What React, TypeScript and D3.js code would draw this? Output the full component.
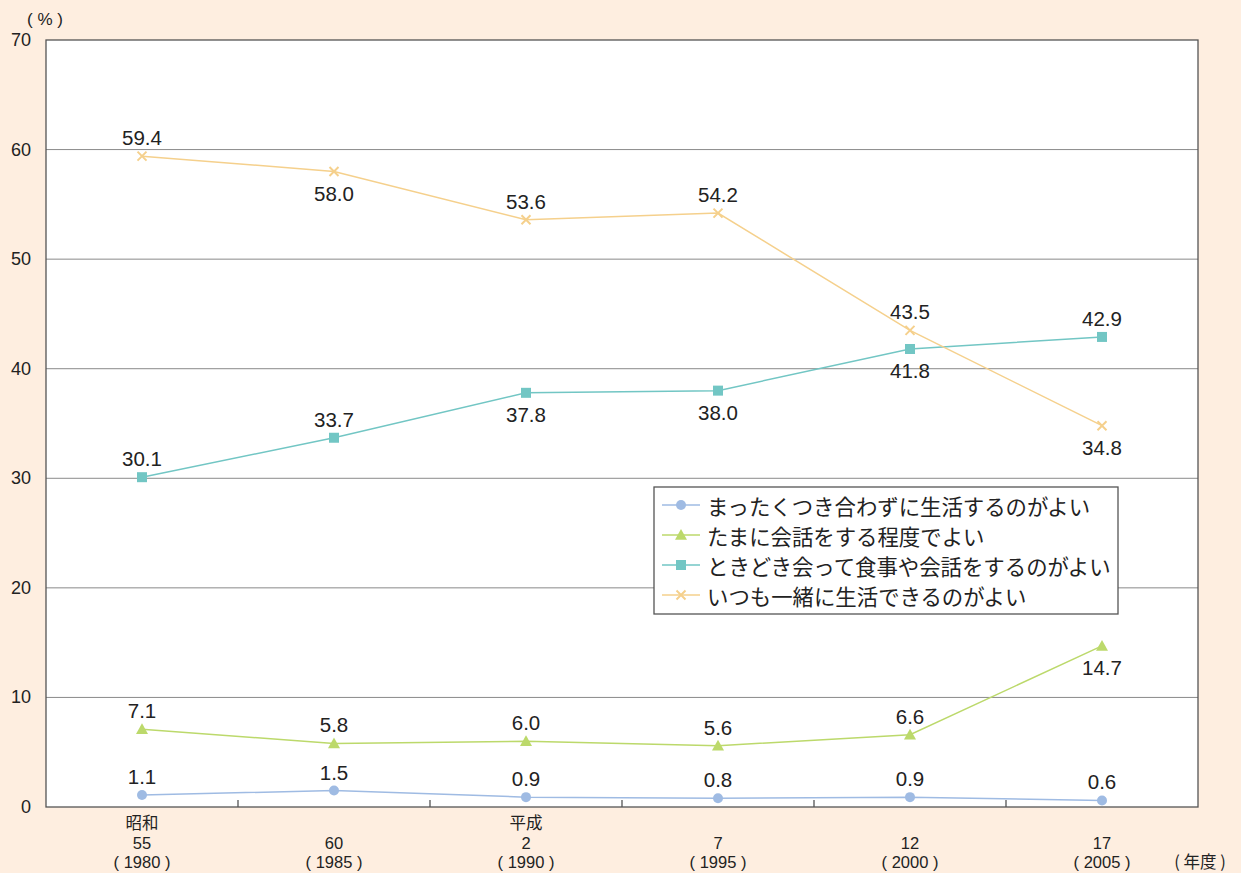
import React from "react";
import * as d3 from "d3";

const eraLabels = ["昭和", "", "平成", "", "", ""];
const eraYears = ["55", "60", "2", "7", "12", "17"];
const westernYears = ["1980", "1985", "1990", "1995", "2000", "2005"];

const seriesNames = [
  "まったくつき合わずに生活するのがよい",
  "たまに会話をする程度でよい",
  "ときどき会って食事や会話をするのがよい",
  "いつも一緒に生活できるのがよい",
];
const noContact = [1.1, 1.5, 0.9, 0.8, 0.9, 0.6];
const occasionalTalk = [7.1, 5.8, 6.0, 5.6, 6.6, 14.7];
const mealsAndTalk = [30.1, 33.7, 37.8, 38.0, 41.8, 42.9];
const liveTogether = [59.4, 58.0, 53.6, 54.2, 43.5, 34.8];

// label placement: 1 = above the point, -1 = below
const noContactPos = [1, 1, 1, 1, 1, 1];
const occasionalPos = [1, 1, 1, 1, 1, -1];
const mealsPos = [1, 1, -1, -1, -1, 1];
const livePos = [1, -1, 1, 1, 1, -1];

const yTicks = [0, 10, 20, 30, 40, 50, 60, 70];

const W = 1241;
const H = 873;
const plot = { left: 46, right: 1198, top: 40, bottom: 807 };
const FONT = "'Noto Sans CJK JP', 'Noto Sans', sans-serif";
const NUM_FONT = "Arial, 'Liberation Sans', sans-serif";

type Series = {
  name: string;
  values: number[];
  pos: number[];
  color: string;
  marker: "circle" | "triangle" | "square" | "cross";
};

const series: Series[] = [
  { name: seriesNames[0], values: noContact, pos: noContactPos, color: "#9fbbe3", marker: "circle" },
  { name: seriesNames[1], values: occasionalTalk, pos: occasionalPos, color: "#bcd96b", marker: "triangle" },
  { name: seriesNames[2], values: mealsAndTalk, pos: mealsPos, color: "#72c6c4", marker: "square" },
  { name: seriesNames[3], values: liveTogether, pos: livePos, color: "#f5d08c", marker: "cross" },
];

function Marker({ type, x, y, color }: { type: Series["marker"]; x: number; y: number; color: string }) {
  if (type === "circle") return <circle cx={x} cy={y} r={5} fill={color} />;
  if (type === "triangle") {
    const s = 6;
    return <path d={`M${x},${y - s}L${x + s},${y + s * 0.8}L${x - s},${y + s * 0.8}Z`} fill={color} />;
  }
  if (type === "square") return <rect x={x - 5} y={y - 5} width={10} height={10} fill={color} />;
  const s = 4.5;
  return (
    <path
      d={`M${x - s},${y - s}L${x + s},${y + s}M${x + s},${y - s}L${x - s},${y + s}`}
      stroke={color}
      strokeWidth={2}
    />
  );
}

export default function App() {
  const idx = westernYears.map((_, i) => String(i));
  const x = d3.scaleBand<string>().domain(idx).range([plot.left, plot.right]);
  const y = d3.scaleLinear().domain([0, 70]).range([plot.bottom, plot.top]);
  const cx = (i: number) => (x(String(i)) as number) + x.bandwidth() / 2;
  const line = d3
    .line<number>()
    .x((_, i) => cx(i))
    .y((d) => y(d));

  const boundaries = idx.slice(1).map((k) => x(k) as number);

  const legend = { x: 654, y: 487, w: 464, h: 127 };

  return (
    <svg width={W} height={H} style={{ display: "block", position: "absolute", left: 0, top: 0 }}>
      <rect x={0} y={0} width={W} height={H} fill="#feeee0" />
      <rect
        x={plot.left}
        y={plot.top}
        width={plot.right - plot.left}
        height={plot.bottom - plot.top}
        fill="#ffffff"
      />
      {yTicks.slice(1, -1).map((t) => (
        <line key={t} x1={plot.left} x2={plot.right} y1={y(t)} y2={y(t)} stroke="#8a8a8a" strokeWidth={1} />
      ))}
      <rect
        x={plot.left}
        y={plot.top}
        width={plot.right - plot.left}
        height={plot.bottom - plot.top}
        fill="none"
        stroke="#555"
        strokeWidth={1.3}
      />
      {boundaries.map((bx, i) => (
        <line key={i} x1={bx} x2={bx} y1={plot.bottom} y2={plot.bottom - 7} stroke="#555" strokeWidth={1.3} />
      ))}
      {yTicks.map((t) => (
        <text
          key={t}
          x={31}
          y={y(t)}
          textAnchor="end"
          dominantBaseline="central"
          fontFamily={NUM_FONT}
          fontSize={18}
          fill="#222"
        >
          {t}
        </text>
      ))}
      <text x={45} y={19} textAnchor="middle" dominantBaseline="central" fontFamily={NUM_FONT} fontSize={17} fill="#222">
        ( % )
      </text>

      {westernYears.map((yr, i) => (
        <g key={yr} fontFamily={NUM_FONT} fontSize={16.5} fill="#222" textAnchor="middle">
          {eraLabels[i] && (
            <text x={cx(i)} y={821.5} dominantBaseline="central" fontFamily={FONT} fontSize={16.5}>
              {eraLabels[i]}
            </text>
          )}
          <text x={cx(i)} y={843} dominantBaseline="central">
            {eraYears[i]}
          </text>
          <text x={cx(i)} y={862} dominantBaseline="central">
            {`( ${yr} )`}
          </text>
        </g>
      ))}
      <text x={1200} y={861} textAnchor="middle" dominantBaseline="central" fontFamily={FONT} fontSize={16.5} fill="#222">
        ( 年度 )
      </text>

      {series.map((s) => (
        <g key={s.name}>
          <path d={line(s.values) || ""} fill="none" stroke={s.color} strokeWidth={1.5} />
          {s.values.map((v, i) => (
            <Marker key={i} type={s.marker} x={cx(i)} y={y(v)} color={s.color} />
          ))}
          {s.values.map((v, i) => (
            <text
              key={`l${i}`}
              x={cx(i)}
              y={y(v) + (s.pos[i] > 0 ? -18.5 : 22)}
              textAnchor="middle"
              dominantBaseline="central"
              fontFamily={NUM_FONT}
              fontSize={20.5}
              fill="#222"
            >
              {v.toFixed(1)}
            </text>
          ))}
        </g>
      ))}

      <rect x={legend.x} y={legend.y} width={legend.w} height={legend.h} fill="#fff" stroke="#555" strokeWidth={1.3} />
      {series.map((s, i) => {
        const ly = legend.y + 18 + i * 30;
        return (
          <g key={`lg${i}`}>
            <line x1={legend.x + 8} x2={legend.x + 46} y1={ly} y2={ly} stroke={s.color} strokeWidth={1.5} />
            <Marker type={s.marker} x={legend.x + 27} y={ly} color={s.color} />
            <text
              x={legend.x + 53}
              y={ly}
              dominantBaseline="central"
              fontFamily={FONT}
              fontSize={21.4}
              fill="#222"
            >
              {s.name}
            </text>
          </g>
        );
      })}
    </svg>
  );
}
